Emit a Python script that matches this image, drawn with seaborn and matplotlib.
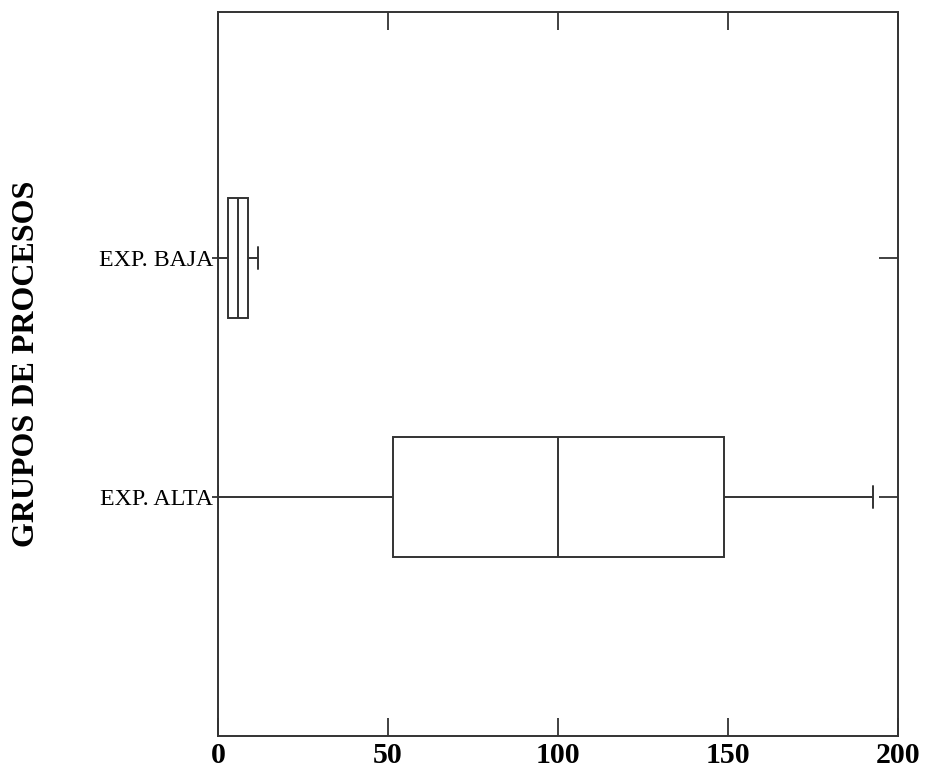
import numpy as np
import pandas as pd
import seaborn as sns
import matplotlib.pyplot as plt

# ---- data ----
groups = ["EXP. BAJA", "EXP. ALTA"]
baja_values = [0.0, 2.85, 5.8, 8.7, 11.7]       # min, q1, median, q3, max
alta_values = [0.0, 51.6, 100.0, 148.8, 192.6]  # min, q1, median, q3, max
x_ticks = [0, 50, 100, 150, 200]
y_label = "GRUPOS DE PROCESOS"

df = pd.DataFrame({
    "grupo": [groups[0]] * len(baja_values) + [groups[1]] * len(alta_values),
    "valor": baja_values + alta_values,
})

sns.set_theme(style="white")
plt.rcParams['font.family'] = ['Liberation Serif', 'DejaVu Serif']

LINE = "#333333"
W, H = 930, 782
fig = plt.figure(figsize=(W / 100, H / 100), dpi=100)
left, right, top, bottom = 218, 898, 12, 736
ax = fig.add_axes([left / W, 1 - bottom / H, (right - left) / W, (bottom - top) / H])

sns.boxplot(data=df, x="valor", y="grupo", order=groups, orient="h",
            width=0.5, whis=np.inf, color="white", linecolor=LINE,
            linewidth=1.4, capwidths=0.095, ax=ax)

ax.set_xlim(0, 200)
ax.set_ylim(2.0, -1.03)
ax.set_xticks(x_ticks)
ax.set_xticklabels([str(t) for t in x_ticks], fontsize=21.5, fontweight="bold", color="black")
ax.tick_params(axis="x", direction="in", length=13, width=1.3, color=LINE,
               top=True, bottom=True, pad=4)
ax.tick_params(axis="y", direction="out", length=4, width=1.3, color=LINE,
               left=True, right=False, pad=-0.5, labelsize=17.2, labelcolor="black")
ax.set_xlabel("")
ax.set_ylabel(y_label, fontsize=23, fontweight="bold", color="black")
ax.yaxis.label.set_va("center")
ax.yaxis.set_label_coords((27 - left) / (right - left), (bottom - 364) / (bottom - top))

for s in ax.spines.values():
    s.set_visible(True)
    s.set_color(LINE)
    s.set_linewidth(1.4)

# right-side inward category ticks
ax2 = ax.twinx()
ax2.set_ylim(ax.get_ylim())
ax2.set_yticks([0, 1])
ax2.set_yticklabels([])
ax2.tick_params(axis="y", direction="in", length=14, width=1.3, color=LINE, right=True)
for s in ax2.spines.values():
    s.set_visible(False)

fig.savefig("out.png", dpi=100)
